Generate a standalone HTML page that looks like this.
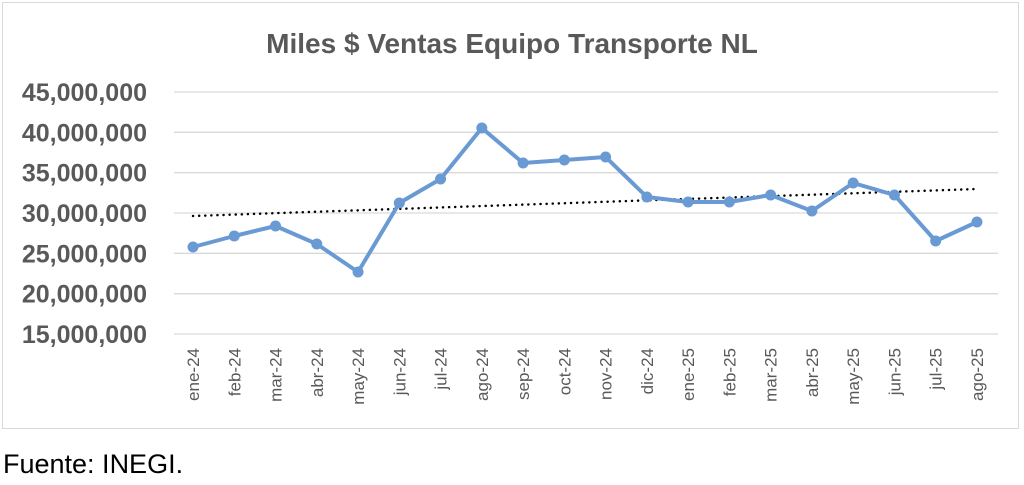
<!DOCTYPE html>
<html><head><style>
html,body{margin:0;padding:0;background:#fff;width:1024px;height:485px;overflow:hidden}
</style></head><body>
<svg width="1024" height="485" xmlns="http://www.w3.org/2000/svg" font-family="Liberation Sans, sans-serif">
<rect x="2.5" y="2.5" width="1016" height="426" fill="#fff" stroke="#d9d9d9" stroke-width="1"/>
<text x="512" y="53" text-anchor="middle" font-size="28" font-weight="bold" fill="#595959">Miles $ Ventas Equipo Transporte NL</text>
<g stroke="#d9d9d9" stroke-width="1.3">
<line x1="174" x2="998" y1="92" y2="92"/><line x1="174" x2="998" y1="132.3" y2="132.3"/>
<line x1="174" x2="998" y1="172.7" y2="172.7"/><line x1="174" x2="998" y1="213" y2="213"/>
<line x1="174" x2="998" y1="253.3" y2="253.3"/><line x1="174" x2="998" y1="293.7" y2="293.7"/>
<line x1="174" x2="998" y1="334" y2="334"/>
</g>
<g font-size="25" font-weight="bold" fill="#595959" text-anchor="end">
<text x="147" y="101">45,000,000</text><text x="147" y="141.3">40,000,000</text>
<text x="147" y="181.7">35,000,000</text><text x="147" y="222">30,000,000</text>
<text x="147" y="262.3">25,000,000</text><text x="147" y="302.7">20,000,000</text>
<text x="147" y="343">15,000,000</text>
</g>
<g font-size="17" fill="#595959" text-anchor="end" id="xl"></g>
<line x1="193" y1="216" x2="977" y2="189" stroke="#000" stroke-width="2.5" stroke-dasharray="0.1 6" stroke-linecap="round"/>
<polyline id="pl" fill="none" stroke="#6a9ad3" stroke-width="4" stroke-linejoin="round"/>
<g id="pts" fill="#6a9ad3"></g>
<text x="3" y="473" font-size="27" fill="#000">Fuente: INEGI.</text>
<script>
var ys=[247,236,226,244,272,203,179,128,163,160,157,197,202,202,195,211,183,195,241,222];
var lab=["ene-24","feb-24","mar-24","abr-24","may-24","jun-24","jul-24","ago-24","sep-24","oct-24","nov-24","dic-24","ene-25","feb-25","mar-25","abr-25","may-25","jun-25","jul-25","ago-25"];
var ns="http://www.w3.org/2000/svg",p=[],xl=document.getElementById('xl'),pts=document.getElementById('pts');
for(var i=0;i<20;i++){var x=193+i*41.26;p.push(x+","+ys[i]);
var c=document.createElementNS(ns,'circle');c.setAttribute('cx',x);c.setAttribute('cy',ys[i]);c.setAttribute('r',5.5);pts.appendChild(c);
var t=document.createElementNS(ns,'text');t.setAttribute('transform','translate('+(x+6)+',348) rotate(-90)');t.textContent=lab[i];xl.appendChild(t);}
document.getElementById('pl').setAttribute('points',p.join(' '));
</script>
</svg>
</body></html>
